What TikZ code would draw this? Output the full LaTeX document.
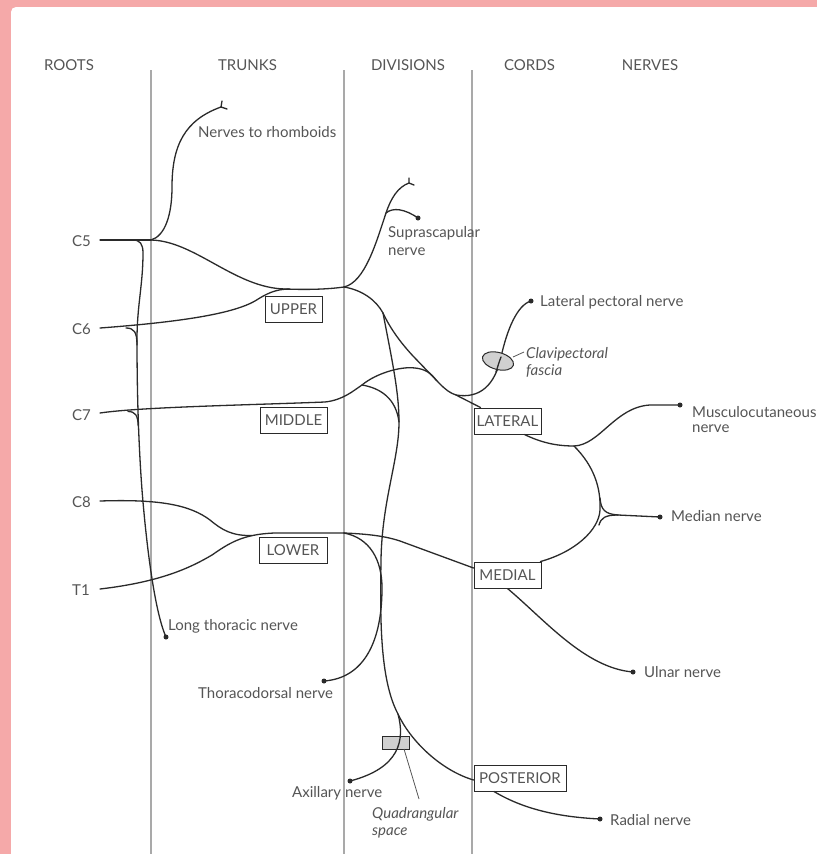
\documentclass[tikz,border=0pt]{standalone}
\usepackage{fontspec}
\setmainfont{Lato}
\usetikzlibrary{shapes.geometric}
\definecolor{pinkbg}{HTML}{F5A9A9}
\definecolor{nervec}{HTML}{2A2A2A}
\definecolor{guidec}{HTML}{A9A9A9}
\definecolor{txt}{HTML}{555555}
\definecolor{fillg}{HTML}{D0D0D0}
\newcommand{\lblfont}{\fontsize{15}{18}\selectfont}
\begin{document}
\begin{tikzpicture}[x=1pt,y=-1pt,
  nerve/.style={draw=nervec,line width=1.3pt,line cap=round},
  guide/.style={draw=guidec,line width=1.2pt},
  lbl/.style={text=txt,font=\lblfont,inner sep=0pt,anchor=base west},
  hdr/.style={text=txt,font=\lblfont,inner sep=0pt,anchor=base},
  itl/.style={lbl,font=\lblfont\itshape},
  cbox/.style={draw=nervec,line width=1pt,fill=white,text=txt,font=\lblfont,minimum height=26pt,inner sep=0pt},
  ndot/.style={circle,fill=nervec,inner sep=0pt,minimum size=5pt},
  leader/.style={draw=txt,line width=0.8pt},
  shade/.style={draw=nervec,line width=1pt,fill=fillg}
]
\useasboundingbox (0,0) rectangle (817,854);
\clip (0,0) rectangle (817,854);
\fill[pinkbg] (0,0) rectangle (817,854);
\fill[white,rounded corners=5pt] (11,7) rectangle (840,880);

% guide lines
\draw[guide] (151,70) -- (151,854);
\draw[guide] (344,70) -- (344,854);
\draw[guide] (472,70) -- (472,854);

% headers
\node[hdr] (hR) at (69,70.5) {ROOTS};
\node[hdr] (hT) at (247.5,70.5) {TRUNKS};
\node[hdr] (hD) at (408,70.5) {DIVISIONS};
\node[hdr] (hC) at (529.5,70.5) {CORDS};
\node[hdr] (hN) at (650,70.5) {NERVES};

% boxes
\node[cbox,minimum width=57pt] (UP) at (293.5,309) {UPPER};
\node[cbox,minimum width=67pt] (MID) at (293.5,420.5) {MIDDLE};
\node[cbox,minimum width=68pt] (LOW) at (293,550) {LOWER};
\node[cbox,minimum width=67pt] (LAT) at (507.5,421) {LATERAL};
\node[cbox,minimum width=67pt] (MED) at (507.5,575) {MEDIAL};
\node[cbox,minimum width=92pt] (POS) at (520,778) {POSTERIOR};

% coordinates
\coordinate (C5s) at (100,240);
\coordinate (J5) at (151,240);
\coordinate (Rh) at (221,107);
\coordinate (JU) at (344,287);
\coordinate (SS) at (386,213);
\coordinate (SF) at (409,183);
\coordinate (SU) at (383,313);
\coordinate (JL) at (456,395);
\coordinate (SM) at (362,385);
\coordinate (PC) at (399,422);
\coordinate (AX) at (398,714);
\coordinate (JLo) at (344,533);
\coordinate (LJ) at (574,446);
\coordinate (MJ) at (618,515);

% dots
\node[ndot] (dSS) at (418,218) {};
\node[ndot] (dLP) at (531,301) {};
\node[ndot] (dMC) at (680,405) {};
\node[ndot] (dMN) at (660,517) {};
\node[ndot] (dUL) at (633,672) {};
\node[ndot] (dRA) at (600,819) {};
\node[ndot] (dLT) at (166,637) {};
\node[ndot] (dTD) at (324,681) {};
\node[ndot] (dAX) at (350,781) {};

% C5 and rhomboids
\draw[nerve] (C5s) -- (J5);
\draw[nerve] (J5) .. controls (165,236) and (172,215) .. (172,187) .. controls (172,145) and (185,120) .. (Rh);
\draw[nerve] (Rh) -- ++(1,-6) (Rh) -- ++(6,2);

% upper trunk
\draw[nerve] (J5) .. controls (195,241) and (235,288) .. (285,289) .. controls (310,290) and (330,289) .. (JU);
\draw[nerve] (100,328) .. controls (180,322) and (232,314) .. (255,301) .. controls (266,294) and (275,289) .. (290,289);

% suprascapular
\draw[nerve] (JU) .. controls (365,282) and (376,243) .. (SS) .. controls (391,198) and (398,187) .. (SF);
\draw[nerve] (SF) -- ++(0,-5) (SF) -- ++(5,2);
\draw[nerve] (SS) .. controls (393,207) and (405,209) .. (dSS.center);

% upper divisions
\draw[nerve] (JU) .. controls (362,290) and (376,300) .. (SU);
\draw[nerve] (SU) .. controls (390,328) and (400,342) .. (413,356) -- (440,384) .. controls (446,390) and (450,393) .. (JL) -- ([xshift=7pt]LAT.north west);
\draw[nerve] (JL) .. controls (480,399) and (495,385) .. (501,357) .. controls (507,330) and (517,305) .. (dLP.center);

% clavipectoral fascia
\node[ellipse,shade,minimum width=32pt,minimum height=17pt,inner sep=0pt,rotate=-15] (CF) at (498,361) {};
\draw[nerve] (496,372) .. controls (498,366) and (499,362) .. (501,357);
\draw[leader] (513,357) -- (524,352);

% middle trunk
\draw[nerve] (100,413) .. controls (140,407) and (250,405) .. (325,402) .. controls (343,400) and (353,391) .. (SM) .. controls (375,374) and (400,366) .. (415,368) .. controls (425,369) and (431,373) .. (436,380);
\draw[nerve] (SM) .. controls (380,388) and (396,398) .. (PC);

% posterior cord
\draw[nerve] (SU) .. controls (392,360) and (399,392) .. (PC) .. controls (399,460) and (382,500) .. (381,560) .. controls (380,620) and (380,680) .. (AX) .. controls (410,740) and (440,770) .. ([yshift=-2pt]POS.west);

% quadrangular space
\node[shade,minimum width=27pt,minimum height=13pt,inner sep=0pt] (QS) at (395.5,742.5) {};
\draw[nerve] (AX) .. controls (405,740) and (400,768) .. (dAX.center);
\draw[leader] (404,749) -- (419,799);

% lower trunk
\draw[nerve] (100,589) .. controls (160,582) and (190,568) .. (212,555) .. controls (228,544) and (242,534) .. (275,533) -- (JLo);
\draw[nerve] (100,501) .. controls (160,499) and (190,505) .. (210,520) .. controls (222,530) and (232,536) .. (252,535.5);
\draw[nerve] (JLo) .. controls (368,534) and (385,536) .. (400,541) -- ([yshift=7pt]MED.west);
\draw[nerve] (JLo) .. controls (370,538) and (382,560) .. (382,588) .. controls (382,640) and (365,678) .. (dTD.center);

% lateral cord outputs
\draw[nerve] ([xshift=17pt]LAT.south) .. controls (540,442) and (555,446) .. (LJ);
\draw[nerve] (LJ) .. controls (600,445) and (615,407) .. (650,405) -- (dMC.center);
\draw[nerve] (LJ) .. controls (594,466) and (601,488) .. (600,510) .. controls (599,530) and (575,552) .. ([xshift=-1pt]MED.north east);
\draw[nerve] (600,498) .. controls (601,510) and (605,514) .. (MJ);
\draw[nerve] (599,525) .. controls (601,518) and (605,515) .. (MJ);
\draw[nerve] (MJ) -- (dMN.center);

% ulnar, radial
\draw[nerve] (MED.south) .. controls (545,620) and (585,668) .. (dUL.center);
\draw[nerve] ([xshift=-26pt]POS.south) .. controls (525,810) and (560,817) .. (dRA.center);

% long thoracic
\draw[nerve] (133,240) .. controls (140,240) and (143,244) .. (143,253) .. controls (143,285) and (137,305) .. (137,340) .. controls (137,400) and (139,450) .. (142,490) .. controls (146,540) and (154,610) .. (dLT.center);
\draw[nerve] (126,328) .. controls (134,328) and (137,332) .. (137,345);
\draw[nerve] (128,411.5) .. controls (135,411.5) and (138,415) .. (138.2,426);

% labels
\node[lbl] (rC5) at (72,246.5) {C5};
\node[lbl] (rC6) at (72,334) {C6};
\node[lbl] (rC7) at (72,420.5) {C7};
\node[lbl] (rC8) at (72,507) {C8};
\node[lbl] (rT1) at (72,595) {T1};
\node[lbl] (lRh) at (198,137) {Nerves to rhomboids};
\node[lbl] (lSS1) at (388,237) {Suprascapular};
\node[lbl] (lSS2) at (388,255) {nerve};
\node[lbl] (lLP) at (540,306.5) {Lateral pectoral nerve};
\node[itl] (lCF1) at (526,358) {Clavipectoral};
\node[itl] (lCF2) at (526,375) {fascia};
\node[lbl] (lMC1) at (692,417) {Musculocutaneous};
\node[lbl] (lMC2) at (692,432) {nerve};
\node[lbl] (lMN) at (671,521.5) {Median nerve};
\node[lbl] (lUL) at (644,677.5) {Ulnar nerve};
\node[lbl] (lRA) at (610,825) {Radial nerve};
\node[lbl] (lLT) at (168,630) {Long thoracic nerve};
\node[lbl] (lTD) at (198,698) {Thoracodorsal nerve};
\node[lbl] (lAX) at (292,797) {Axillary nerve};
\node[itl] (lQS1) at (372,818.5) {Quadrangular};
\node[itl] (lQS2) at (372,835) {space};
\end{tikzpicture}
\end{document}
